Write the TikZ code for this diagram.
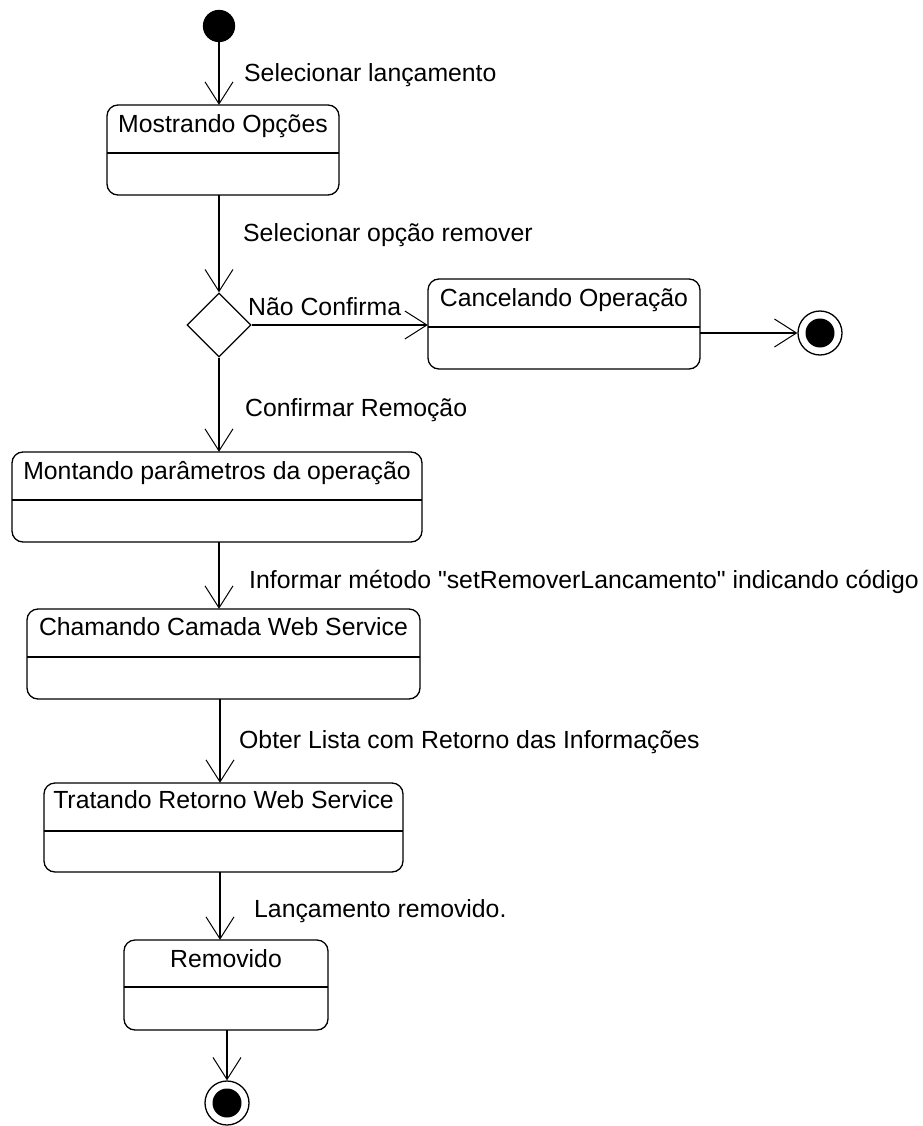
\documentclass[tikz,border=0pt]{standalone}
\usepackage{fontspec}
\setmainfont{Liberation Sans}
\usetikzlibrary{arrows.meta,shapes.geometric}

\tikzset{
  uml/.style={line width=1.3pt, black},
  statebox/.style={uml, draw, rounded corners=11pt, fill=white},
  flow/.style={uml, -{Straight Barb[length=22pt,width=28pt,line width=1pt]}},
  lbl/.style={anchor=base west, inner sep=0pt, font=\fontsize{24.8}{29}\selectfont},
  ttl/.style={anchor=base, inner sep=0pt, font=\fontsize{24.8}{29}\selectfont},
  initial/.style={circle, draw, uml, fill=black, minimum size=31pt, inner sep=0pt},
  finalring/.style={circle, draw, uml, fill=white, minimum size=44pt, inner sep=0pt},
  finaldot/.style={circle, fill=black, minimum size=29pt, inner sep=0pt},
  choice/.style={diamond, draw, uml, fill=white, aspect=1, minimum size=64pt, inner sep=0pt}
}

% straight double quote, set as a glyph so no text mapping turns it curly
\newcommand{\sq}{\XeTeXglyph\XeTeXcharglyph"22\relax}

% state with a name compartment and an empty lower compartment
% #1 name, #2 left, #3 top, #4 right, #5 bottom, #6 divider y, #7 baseline y, #8 title
\newcommand{\umlstate}[8]{%
  \path[statebox] (#2,#3) rectangle (#4,#5);
  \node[inner sep=0pt, minimum width={(#4)-(#2)}, minimum height={(#5)-(#3)}]
    (#1) at ({((#2)+(#4))/2},{((#3)+(#5))/2}) {};
  \draw[uml] (#2,#6) -- (#4,#6);
  \node[ttl] (#1-t) at ({((#2)+(#4))/2},#7) {#8};
}

\begin{document}
\begin{tikzpicture}[x=1pt,y=-1pt]
\useasboundingbox (0,0) rectangle (922,1126);

% states
\umlstate{mo}{107}{105}{339}{195}{153}{133}{Mostrando Opções}
\umlstate{ca}{428}{279}{700}{369}{327}{306}{Cancelando Operação}
\umlstate{mp}{12}{452}{422}{542}{500}{479}{Montando parâmetros da operação}
\umlstate{ch}{27}{609}{420}{699}{657}{635}{Chamando Camada Web Service}
\umlstate{tr}{44}{783}{403}{872}{831}{808}{Tratando Retorno Web Service}
\umlstate{rm}{124}{940}{328}{1030}{987}{967}{Removido}

% pseudo states
\node[initial] (ini) at (219,26) {};
\node[choice] (dia) at (219,325) {};
\node[finalring] (fa) at (820,333) {};
\node[finaldot] (fad) at (fa) {};
\node[finalring] (fb) at (227,1103) {};
\node[finaldot] (fbd) at (fb) {};

% transitions
\draw[flow] (ini) -- (ini |- mo.north);
\draw[flow] (dia |- mo.south) -- (dia.north);
\draw[flow] (dia.east) -- (dia.east -| ca.west);
\draw[flow] (fa -| ca.east) -- (fa.west);
\draw[flow] (dia.south) -- (dia |- mp.north);
\draw[flow] (dia |- mp.south) -- (dia |- ch.north);
\draw[flow] (220,0 |- ch.south) -- (220,0 |- tr.north);
\draw[flow] (220,0 |- tr.south) -- (220,0 |- rm.north);
\draw[flow] (fb |- rm.south) -- (fb.north);

% transition labels
\node[lbl] (l1) at (244,82) {Selecionar lançamento};
\node[lbl] (l2) at (243,241) {Selecionar opção remover};
\node[lbl] (l3) at (248,315) {Não Confirma};
\node[lbl] (l4) at (245,416) {Confirmar Remoção};
\node[lbl] (l5) at (249,588) {Informar método \sq setRemoverLancamento\sq{} indicando código};
\node[lbl] (l6) at (239,748) {Obter Lista com Retorno das Informações};
\node[lbl] (l7) at (254,917) {Lançamento removido.};
\end{tikzpicture}
\end{document}
